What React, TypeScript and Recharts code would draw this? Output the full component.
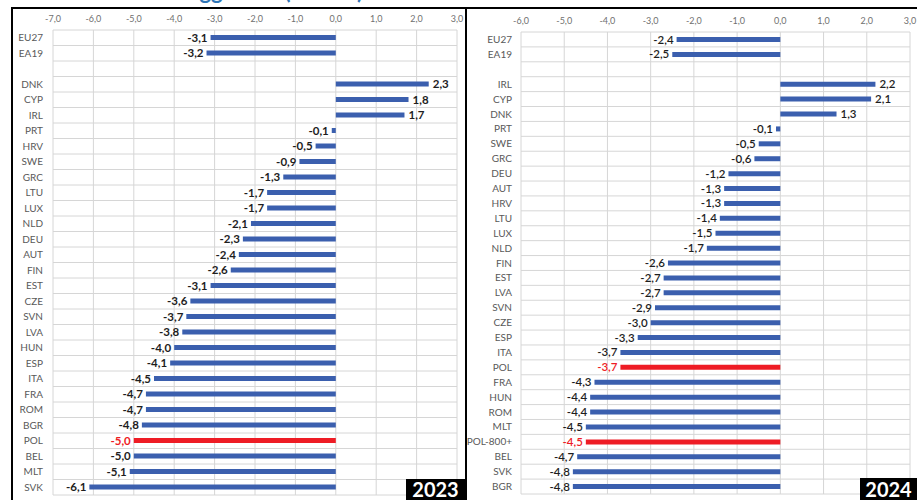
import { BarChart, Bar, XAxis, YAxis, CartesianGrid, Cell, LabelList } from 'recharts';

// general government balance, % of GDP
const countries2023 = ['EU27', 'EA19', ' ', 'DNK', 'CYP', 'IRL', 'PRT', 'HRV', 'SWE', 'GRC', 'LTU', 'LUX', 'NLD', 'DEU', 'AUT', 'FIN', 'EST', 'CZE', 'SVN', 'LVA', 'HUN', 'ESP', 'ITA', 'FRA', 'ROM', 'BGR', 'POL', 'BEL', 'MLT', 'SVK'];
const values2023 = [-3.1, -3.2, null, 2.3, 1.8, 1.7, -0.1, -0.5, -0.9, -1.3, -1.7, -1.7, -2.1, -2.3, -2.4, -2.6, -3.1, -3.6, -3.7, -3.8, -4.0, -4.1, -4.5, -4.7, -4.7, -4.8, -5.0, -5.0, -5.1, -6.1];

const countries2024 = ['EU27', 'EA19', ' ', 'IRL', 'CYP', 'DNK', 'PRT', 'SWE', 'GRC', 'DEU', 'AUT', 'HRV', 'LTU', 'LUX', 'NLD', 'FIN', 'EST', 'LVA', 'SVN', 'CZE', 'ESP', 'ITA', 'POL', 'FRA', 'HUN', 'ROM', 'MLT', 'POL-800+', 'BEL', 'SVK', 'BGR'];
const values2024 = [-2.4, -2.5, null, 2.2, 2.1, 1.3, -0.1, -0.5, -0.6, -1.2, -1.3, -1.3, -1.4, -1.5, -1.7, -2.6, -2.7, -2.7, -2.9, -3.0, -3.3, -3.7, -3.7, -4.3, -4.4, -4.4, -4.5, -4.5, -4.7, -4.8, -4.8];

const ticks2023 = [-7, -6, -5, -4, -3, -2, -1, 0, 1, 2, 3];
const ticks2024 = [-6, -5, -4, -3, -2, -1, 0, 1, 2, 3];

const BLUE = '#3b5fae';
const RED = '#ee1c25';
const FONT = 'Lato, "Open Sans", sans-serif';

const fmt = (v: number) => v.toFixed(1).replace('.', ',');
const isPoland = (name: string) => name.startsWith('POL');

// grid lines on the band edges instead of the band centres
const rowEdges = (names: string[]) => (props: any) => {
  const scale = props?.yAxis?.scale;
  if (typeof scale === 'function' && typeof scale.bandwidth === 'function') {
    const bw = scale.bandwidth();
    const edges = names.map((n) => scale(n));
    edges.push(edges[edges.length - 1] + bw);
    return edges;
  }
  const { top, height } = props.offset;
  return [...names.map((_, i) => top + (i * height) / names.length), top + height];
};

// LabelList skips the empty row, so the index runs over the filled rows only
const valueLabel = (weight: number, rows: { name: string }[]) => (props: any) => {
  const { x, y, width, height, value, index } = props;
  if (value == null) return null;
  const name = rows[index]?.name ?? '';
  const start = Number(x);
  const end = start + Number(width);
  const tip = value < 0 ? Math.min(start, end) : Math.max(start, end);
  return (
    <text
      x={value < 0 ? tip - 3 : tip + 4}
      y={Number(y) + Number(height) / 2}
      dy={4}
      textAnchor={value < 0 ? 'end' : 'start'}
      fontSize={11.5}
      fontWeight={weight}
      fontFamily={FONT}
      fill={isPoland(name) ? RED : '#1e1e1e'}
    >
      {fmt(value)}
    </text>
  );
};

interface PanelProps {
  names: string[];
  values: (number | null)[];
  ticks: number[];
  width: number;
  height: number;
  axisWidth: number;
  axisHeight: number;
  labelGap: number;
  margin: { top: number; right: number; bottom: number; left: number };
  labelWeight: number;
}

const Panel = ({ names, values, ticks, width, height, axisWidth, axisHeight, labelGap, margin, labelWeight }: PanelProps) => {
  const data = names.map((name, i) => ({ name, value: values[i] }));
  const filled = data.filter((d) => d.value != null);
  return (
    <BarChart width={width} height={height} data={data} layout="vertical" margin={margin}>
      <CartesianGrid stroke="#d6d6d6" strokeWidth={1} horizontalCoordinatesGenerator={rowEdges(names)} />
      <XAxis
        type="number"
        orientation="top"
        domain={[ticks[0], ticks[ticks.length - 1]]}
        ticks={ticks}
        height={axisHeight}
        tickFormatter={fmt}
        axisLine={false}
        tickLine={false}
        tickSize={0}
        tickMargin={8}
        tick={{ fill: '#707070', fontSize: 9, fontFamily: FONT }}
      />
      <YAxis
        type="category"
        dataKey="name"
        width={axisWidth}
        interval={0}
        axisLine={false}
        tickLine={false}
        tickSize={0}
        tickMargin={labelGap}
        tick={{ fill: '#595959', fontSize: 10, fontFamily: FONT }}
      />
      <Bar dataKey="value" barSize={5} isAnimationActive={false}>
        {data.map((d) => (
          <Cell key={d.name} fill={isPoland(d.name) ? RED : BLUE} />
        ))}
        <LabelList dataKey="value" content={valueLabel(labelWeight, filled)} />
      </Bar>
    </BarChart>
  );
};

const yearBox = (left: number, top: number, w: number, h: number): React.CSSProperties => ({
  position: 'absolute',
  left,
  top,
  width: w,
  height: h,
  background: '#000',
  color: '#fff',
  fontFamily: FONT,
  fontWeight: 700,
  fontSize: 20,
  lineHeight: `${h}px`,
  textAlign: 'center',
});

export default function App() {
  return (
    <div style={{ position: 'absolute', left: 0, top: 0, width: 917, height: 500, overflow: 'hidden', background: '#fff' }}>
      <div style={{ position: 'absolute', left: 0, top: 0, width: 917, height: 4, overflow: 'hidden' }}>
        <div style={{ position: 'absolute', left: 62, top: -23, fontFamily: FONT, fontWeight: 700, fontSize: 22, color: '#2e75b6', whiteSpace: 'nowrap' }}>
          Saldo sektora gg w UE (% PKB)
        </div>
      </div>

      <div style={{ position: 'absolute', left: 11, top: 7, width: 456, height: 510, border: '2px solid #000', boxSizing: 'border-box' }} />
      <div style={{ position: 'absolute', left: 465, top: 7, width: 470, height: 510, border: '2px solid #000', boxSizing: 'border-box' }} />

      <div style={{ position: 'absolute', left: 12, top: 8 }}>
        <Panel
          names={countries2023}
          values={values2023}
          ticks={ticks2023}
          width={453}
          height={492}
          axisWidth={41}
          axisHeight={22}
          labelGap={10}
          margin={{ top: 0, right: 8, bottom: 5, left: 0 }}
          labelWeight={700}
        />
      </div>

      <div style={{ position: 'absolute', left: 467, top: 8 }}>
        <Panel
          names={countries2024}
          values={values2024}
          ticks={ticks2024}
          width={450}
          height={492}
          axisWidth={54}
          axisHeight={24}
          labelGap={9}
          margin={{ top: 0, right: 7, bottom: 6, left: 0 }}
          labelWeight={600}
        />
      </div>

      <div style={yearBox(406, 479, 59, 21)}>2023</div>
      <div style={yearBox(860, 478, 57, 22)}>2024</div>
    </div>
  );
}
